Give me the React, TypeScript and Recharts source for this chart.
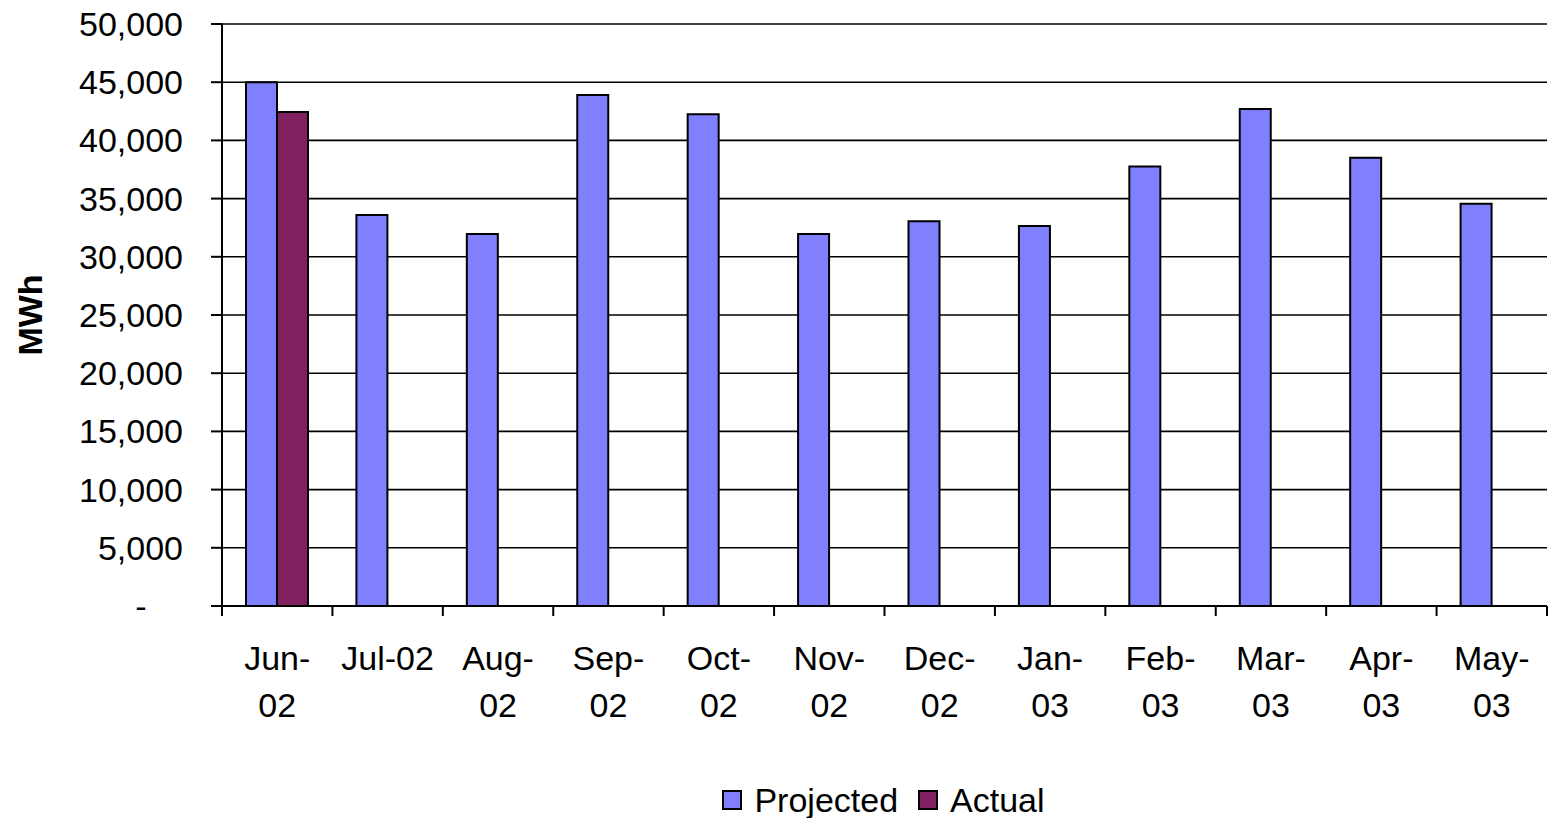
import { BarChart, Bar, XAxis, YAxis, CartesianGrid, Legend } from "recharts"

const months = ["Jun-02", "Jul-02", "Aug-02", "Sep-02", "Oct-02", "Nov-02", "Dec-02", "Jan-03", "Feb-03", "Mar-03", "Apr-03", "May-03"]
const projected = [45000, 33600, 31950, 43900, 42250, 31950, 33050, 32650, 37750, 42700, 38500, 34550]
const actual: (number | null)[] = [42450, null, null, null, null, null, null, null, null, null, null, null]
// Excel kept these on one line, the others wrap after the dash
const oneLineLabels = ["Jul-02"]
const yTicks = [0, 5000, 10000, 15000, 20000, 25000, 30000, 35000, 40000, 45000, 50000]

const FONT = "'Liberation Sans', Arial, sans-serif"
const PROJ_COLOR = "#8080FF"
const ACT_COLOR = "#802060"

const data = months.map((m, i) => ({ month: m, projected: projected[i], actual: actual[i] }))

function MonthTick(props: any) {
  const { x, y, payload, index } = props
  const half = payload.offset ?? 55.2
  const label: string = payload.value
  const lines = oneLineLabels.includes(label) ? [label] : [label.slice(0, 4), label.slice(4)]
  return (
    <g>
      <line x1={x - half} x2={x - half} y1={y - 10} y2={y} stroke="#000" strokeWidth={2} />
      {index === months.length - 1 && (
        <line x1={x + half} x2={x + half} y1={y - 10} y2={y} stroke="#000" strokeWidth={2} />
      )}
      {lines.map((l, i) => (
        <text key={i} x={x} y={y + 54 + i * 47} textAnchor="middle" fontSize={34} fontFamily={FONT} fill="#000">
          {l}
        </text>
      ))}
    </g>
  )
}

// accounting format: zero shows as a dash sitting left of the number column
function ValueTick(props: any) {
  const { x, y, payload } = props
  const v: number = payload.value
  const zero = v === 0
  return (
    <text x={zero ? x - 42 : x} y={y} dy="0.355em" textAnchor={zero ? "middle" : "end"}
      fontSize={34} fontFamily={FONT} fill="#000">
      {zero ? "-" : v.toLocaleString("en-US")}
    </text>
  )
}

function LegendBox() {
  const items = [
    { name: "Projected", color: PROJ_COLOR },
    { name: "Actual", color: ACT_COLOR },
  ]
  return (
    <div style={{
      height: 52, paddingTop: 16, paddingLeft: 220, boxSizing: "border-box",
      display: "flex", justifyContent: "center", alignItems: "center",
      fontFamily: FONT, fontSize: 34, color: "#000",
    }}>
      {items.map((it, i) => (
        <div key={it.name} style={{ display: "flex", alignItems: "center", marginLeft: i ? 20 : 0 }}>
          <span style={{ width: 16, height: 16, border: "2px solid #000", background: it.color, marginRight: 12 }} />
          <span style={{ lineHeight: "36px" }}>{it.name}</span>
        </div>
      ))}
    </div>
  )
}

export default function App() {
  return (
    <div style={{ position: "absolute", left: 0, top: 0, background: "#fff" }}>
      <BarChart
        width={1549} height={818} data={data}
        margin={{ top: 24, right: 2, left: 0, bottom: 0 }}
        barSize={31} barGap={0}
      >
        <CartesianGrid vertical={false} stroke="#000" strokeWidth={1.6} horizontalValues={yTicks} />
        <XAxis
          dataKey="month"
          height={160}
          interval={0}
          axisLine={{ stroke: "#000", strokeWidth: 2 }}
          tickLine={false}
          tickSize={10}
          tickMargin={0}
          tick={<MonthTick />}
        />
        <YAxis
          width={222}
          domain={[0, 50000]}
          ticks={yTicks}
          interval={0}
          axisLine={{ stroke: "#000", strokeWidth: 2 }}
          tickLine={{ stroke: "#000", strokeWidth: 2 }}
          tickSize={11}
          tickMargin={28}
          tick={<ValueTick />}
          label={{
            content: (p: any) => {
              const vb = p.viewBox
              const cx = vb.x + 30
              const cy = vb.y + vb.height / 2
              return (
                <text x={cx} y={cy} transform={`rotate(-90 ${cx} ${cy})`} textAnchor="middle"
                  dominantBaseline="central" fontSize={34} fontWeight="bold" fontFamily={FONT} fill="#000">
                  MWh
                </text>
              )
            },
          }}
        />
        <Legend verticalAlign="bottom" content={() => <LegendBox />} />
        <Bar dataKey="projected" name="Projected" fill={PROJ_COLOR} stroke="#000" strokeWidth={2} isAnimationActive={false} />
        <Bar dataKey="actual" name="Actual" fill={ACT_COLOR} stroke="#000" strokeWidth={2} isAnimationActive={false} />
      </BarChart>
    </div>
  )
}
